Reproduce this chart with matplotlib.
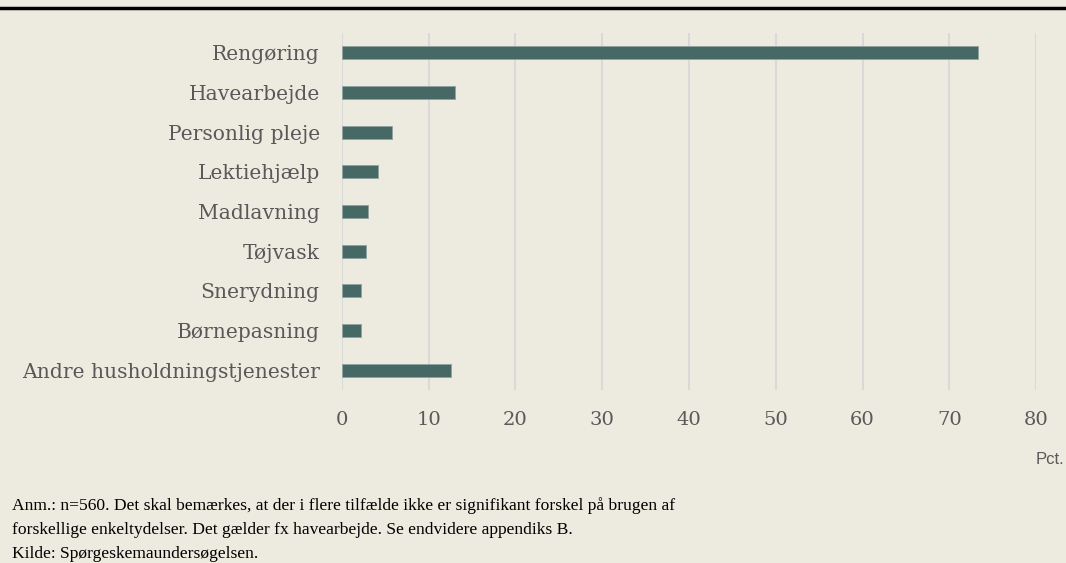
import matplotlib.pyplot as plt

# Data
kategorier = ['Rengøring', 'Havearbejde', 'Personlig pleje', 'Lektiehjælp',
              'Madlavning', 'Tøjvask', 'Snerydning', 'Børnepasning',
              'Andre husholdningstjenester']
andele = [73.3, 13.0, 5.8, 4.2, 3.0, 2.8, 2.2, 2.15, 12.6]
x_ticks = [0, 10, 20, 30, 40, 50, 60, 70, 80]

bg = '#EDEAE0'
bar_col = '#476966'
grey = '#595959'

plt.rcParams['font.family'] = ['DejaVu Serif']

fig = plt.figure(figsize=(10.66, 5.63), dpi=100, facecolor=bg)
ax = fig.add_axes([0.3208, 0.3073, 0.6511, 0.6341], facecolor=bg)

pos = list(range(len(kategorier)))
ax.barh(pos, andele, height=0.33, color=bar_col, edgecolor='#8FA3A0',
        linewidth=0.6, zorder=3)

ax.set_ylim(len(kategorier) - 0.5, -0.5)
ax.set_xlim(0, 80)
ax.set_xticks(x_ticks)
ax.set_yticks(pos)
ax.set_yticklabels(kategorier)
ax.tick_params(axis='x', length=0, colors=grey, labelsize=14, pad=15)
ax.tick_params(axis='y', length=0, colors=grey, labelsize=14.6, pad=16)
ax.grid(axis='x', color='#D9D9D9', linewidth=1.5, zorder=0)
for s in ax.spines.values():
    s.set_visible(False)

fig.text(1050 / 1066, 1 - 460 / 563, 'Pct.', ha='center', va='center',
         fontsize=12, color=grey, family=['Liberation Sans', 'DejaVu Sans'])

# black rule at the top
fig.add_artist(plt.Line2D([0, 1], [1 - 8 / 563, 1 - 8 / 563], color='black',
                          linewidth=2.5, transform=fig.transFigure))

noter = ['Anm.: n=560. Det skal bemærkes, at der i flere tilfælde ikke er signifikant forskel på brugen af',
         'forskellige enkeltydelser. Det gælder fx havearbejde. Se endvidere appendiks B.',
         'Kilde: Spørgeskemaundersøgelsen.']
for i, linje in enumerate(noter):
    fig.text(12 / 1066, 1 - (506 + i * 24) / 563, linje, ha='left', va='center',
             fontsize=12.6, color='black', family=['Liberation Serif', 'DejaVu Serif'])

fig.savefig('out.png', dpi=100, facecolor=bg)
